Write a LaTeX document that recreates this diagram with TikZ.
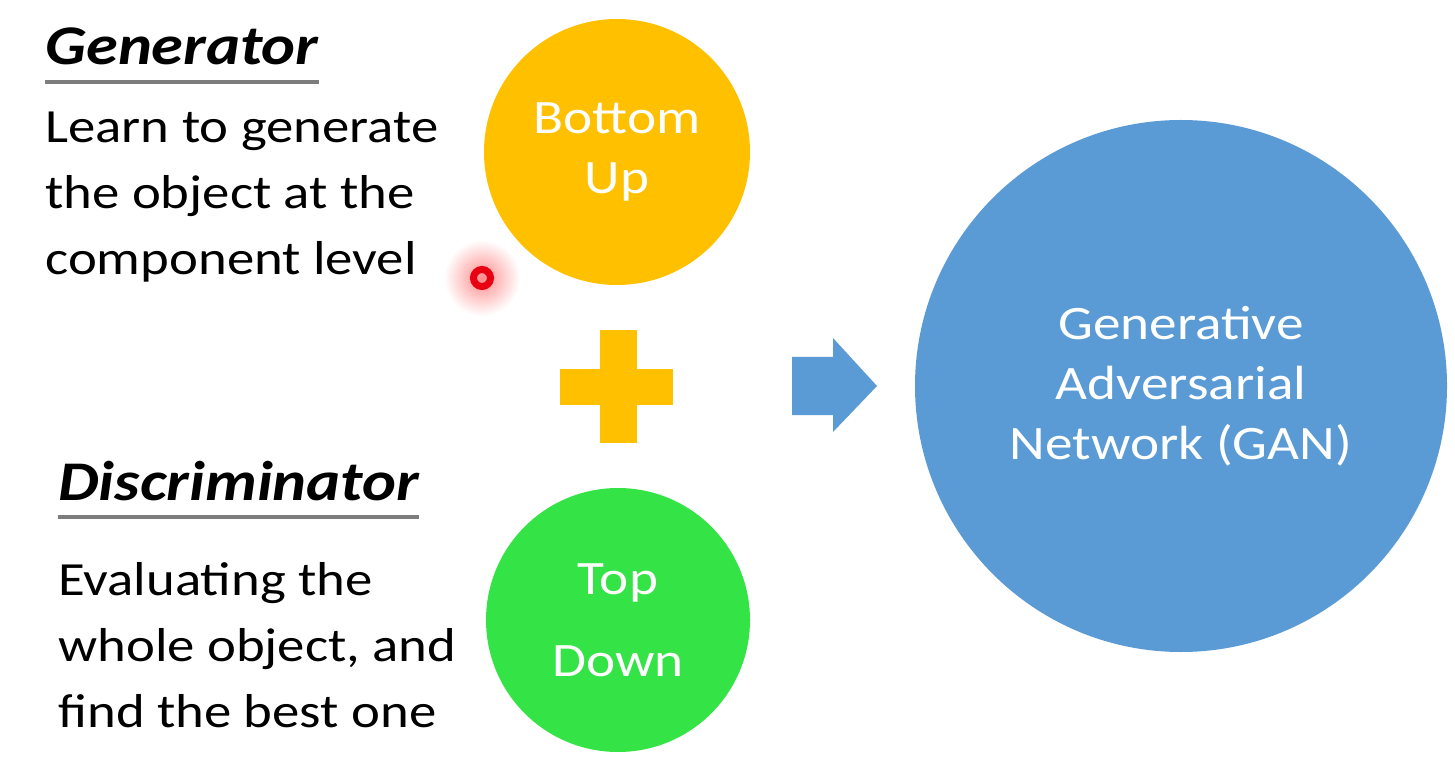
\documentclass[tikz,border=0pt]{standalone}
\usepackage{fontspec}
\setmainfont{Carlito}[FakeStretch=1.15]
\definecolor{ganorange}{RGB}{255,192,0}
\definecolor{ganblue}{RGB}{91,155,213}
\definecolor{gangreen}{RGB}{52,228,70}
\definecolor{rulegray}{RGB}{125,125,125}
\definecolor{pointerred}{RGB}{232,0,18}

\begin{document}
\begin{tikzpicture}[
    x=0.5pt, y=-0.5pt,
    heading/.style={anchor=base west, inner sep=0pt, font=\fontsize{28}{34}\selectfont\bfseries\itshape},
    underline/.style={draw=rulegray, line width=2pt},
    body/.style={anchor=base west, inner sep=0pt, align=left, font=\fontsize{23.8}{33}\selectfont},
    blob/.style={circle, inner sep=0pt, text=white, align=center, font=\fontsize{24}{30}\selectfont}
]
    \useasboundingbox[fill=white] (0,0) rectangle (1455,764);

    % Generator side
    \node[heading] (gen) at (45,65) {Generator};
    \draw[underline] ([yshift=-8.5pt]gen.base west) -- ([yshift=-8.5pt]gen.base east);
    \node[body] (gentext) at (45,275) {Learn to generate\\the object at the\\component level};

    % Discriminator side
    \node[heading] (dis) at (58,500) {Discriminator};
    \draw[underline] ([yshift=-8.5pt]dis.base west) -- ([yshift=-8.5pt]dis.base east);
    \node[body] (distext) at (58,727) {Evaluating the\\whole object, and\\find the best one};

    % Circles
    \node[blob, fill=ganorange, minimum size=133pt] (bottomup) at (617,152) {Bottom\\Up};
    \node[blob, fill=gangreen, minimum size=132pt, font=\fontsize{24}{41}\selectfont] (topdown) at (618,620) {Top\\Down};
    \node[blob, fill=ganblue, minimum size=266pt] (gan) at (1181,386) {Generative\\Adversarial\\Network (GAN)};

    % Plus and block arrow
    \fill[ganorange] (600,330) rectangle (637,443);
    \fill[ganorange] (560,369) rectangle (673,405);
    \fill[ganblue] (792,357) -- (833,357) -- (833,338) -- (877,386) -- (833,432) -- (833,415) -- (792,415) -- cycle;

    % Laser pointer
    \shade[inner color=red!45, outer color=white] (482,278) circle (38);
    \draw[pointerred, line width=3.5pt] (482,278) circle (8.5);
\end{tikzpicture}
\end{document}
